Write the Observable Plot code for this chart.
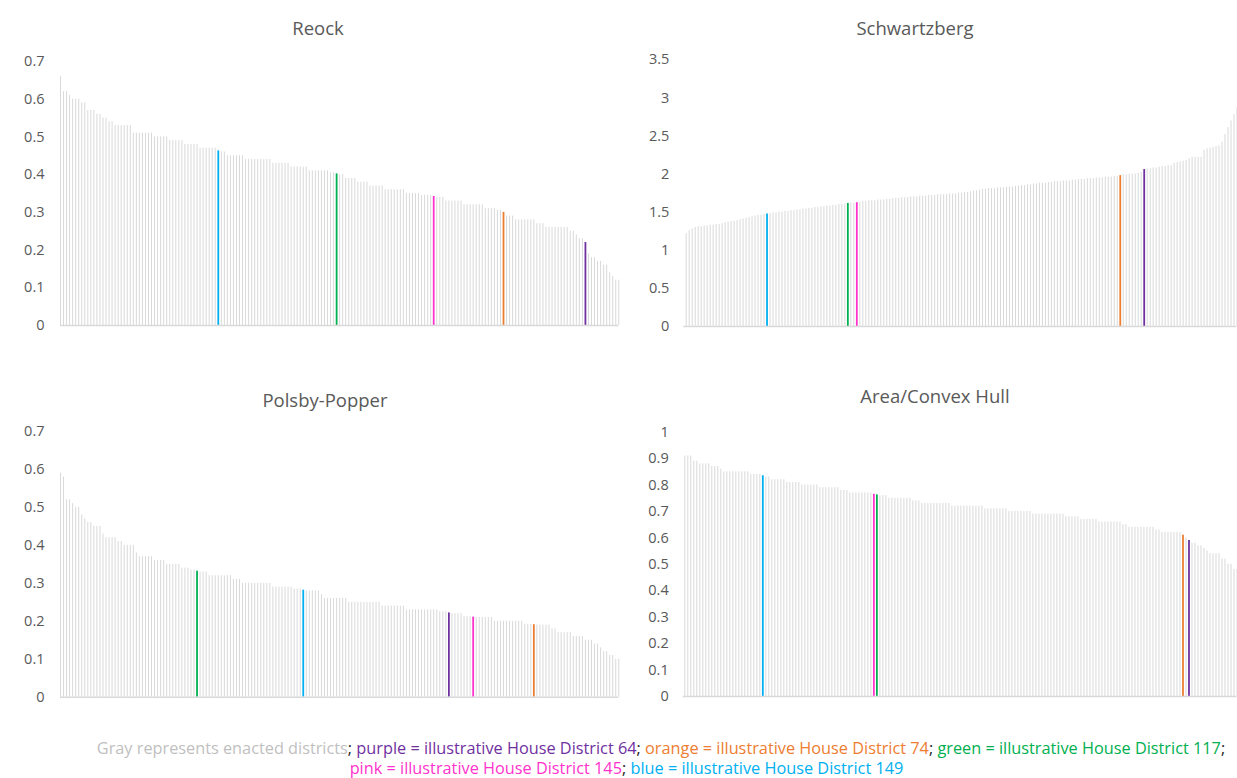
<!DOCTYPE html>
<html><head><meta charset="utf-8">
<script src="https://cdn.jsdelivr.net/npm/d3@7"></script>
<script src="https://cdn.jsdelivr.net/npm/@observablehq/plot@0.6"></script>
<style>
body{margin:0;background:#fff;}
#root{position:relative;width:1237px;height:778px;overflow:hidden;font-family:"Open Sans",sans-serif;background:#fff;}
.panel{position:absolute;}
.title{position:absolute;width:400px;text-align:center;font-size:18.5px;line-height:24px;color:#595959;white-space:nowrap;}
.cap{position:absolute;width:1237px;text-align:center;font-size:16.3px;line-height:20px;white-space:nowrap;}
</style></head>
<body><div id="root"></div>
<script>
// ---- Data ----
const districts = [64, 74, 117, 145, 149];
const districtColorNames = ["purple", "orange", "green", "pink", "blue"];

const reockEnacted = [0.66,0.62,0.62,0.61,0.60,0.60,0.60,0.59,0.59,0.57,0.57,0.57,0.56,0.56,0.55,0.55,0.54,0.54,
0.53,0.53,0.53,0.53,0.53,0.53,0.51,0.51,0.51,0.51,0.51,0.51,0.51,0.50,0.50,0.50,0.50,0.50,
0.49,0.49,0.49,0.49,0.49,0.48,0.48,0.48,0.48,0.48,0.47,0.47,0.47,0.47,0.47,0.47,0.46,0.46,
0.45,0.45,0.45,0.45,0.45,0.45,0.44,0.44,0.44,0.44,0.44,0.44,0.44,0.44,0.44,
0.43,0.43,0.43,0.43,0.43,0.43,0.42,0.42,0.42,0.42,0.42,0.42,0.41,0.41,0.41,0.41,0.41,0.41,0.41,
0.405,0.405,0.40,0.40,0.39,0.39,0.39,0.39,0.38,0.38,0.38,0.38,0.37,0.37,0.37,0.37,0.37,
0.36,0.36,0.36,0.36,0.36,0.36,0.36,0.35,0.35,0.35,0.35,0.35,0.345,0.345,0.345,0.345,0.34,0.34,0.34,
0.33,0.33,0.33,0.33,0.33,0.33,0.32,0.32,0.32,0.32,0.32,0.32,0.32,0.31,0.31,0.31,0.31,0.305,0.305,
0.29,0.29,0.29,0.28,0.28,0.28,0.28,0.28,0.28,0.28,0.27,0.27,0.27,0.26,0.26,0.26,0.26,0.26,0.26,0.26,0.26,
0.25,0.25,0.24,0.23,0.23,0.19,0.18,0.18,0.17,0.17,0.16,0.16,0.14,0.13,0.12,0.12];
const reockIllustrative = [0.22, 0.30, 0.402, 0.342, 0.463];

const schwartzbergEnacted = [1.22,1.26,1.28,1.30,1.31,1.31,1.32,1.32,1.33,1.33,1.34,1.34,1.35,1.36,1.37,1.38,1.38,1.39,1.40,1.41,1.42,1.43,1.44,1.45,1.46,1.46,1.47,
1.48,1.49,1.49,1.50,1.50,1.51,1.51,1.52,1.52,1.53,1.53,1.54,1.54,1.55,1.55,1.56,1.56,1.57,1.57,1.58,1.58,1.59,1.59,1.60,1.60,1.61,
1.62,1.62,
1.63,1.64,1.64,1.65,1.65,1.65,1.66,1.66,1.66,1.67,1.67,1.68,1.68,1.68,1.69,1.69,1.69,1.70,1.70,1.70,1.71,1.71,1.71,1.72,1.72,1.72,
1.73,1.73,1.73,1.73,1.74,1.74,1.74,1.75,1.75,1.76,1.76,1.77,1.78,1.78,1.79,1.80,1.80,1.81,1.81,1.81,1.82,1.82,1.82,1.83,1.83,1.83,
1.84,1.84,1.85,1.85,1.86,1.86,1.87,1.87,1.88,1.88,1.88,1.89,1.89,1.90,1.90,1.90,1.91,1.91,1.91,1.92,1.92,1.93,1.93,1.93,
1.94,1.94,1.94,1.95,1.95,1.95,1.96,1.96,1.96,1.97,1.97,
1.99,1.99,2.00,2.00,2.00,2.01,2.02,
2.07,2.07,2.08,2.08,2.09,2.10,2.10,2.11,2.11,2.14,2.15,2.16,2.17,2.18,2.20,2.22,2.22,2.22,2.22,
2.31,2.33,2.34,2.35,2.36,2.37,2.42,2.52,2.61,2.70,2.78,2.87];
const schwartzbergIllustrative = [2.06, 1.98, 1.615, 1.625, 1.475];

const polsbyEnacted = [0.59,0.58,0.52,0.52,0.51,0.50,0.50,0.48,0.47,0.46,0.46,0.45,0.45,0.45,0.43,0.42,0.42,0.42,0.42,0.41,0.41,
0.40,0.40,0.40,0.40,0.38,0.37,0.37,0.37,0.37,0.37,0.36,0.36,0.36,0.36,0.35,0.35,0.35,0.35,0.35,0.34,0.34,0.34,0.335,0.335,
0.33,0.33,0.33,0.32,0.32,0.32,0.32,0.32,0.32,0.32,0.32,0.31,0.31,0.31,0.30,0.30,0.30,0.30,0.30,0.30,0.30,0.30,0.30,0.30,
0.29,0.29,0.29,0.29,0.29,0.29,0.29,0.285,0.285,0.285,
0.28,0.28,0.28,0.28,0.28,0.27,0.26,0.26,0.26,0.26,0.26,0.26,0.26,0.26,
0.25,0.25,0.25,0.25,0.25,0.25,0.25,0.25,0.25,0.25,0.25,0.24,0.24,0.24,0.24,0.24,0.24,0.24,0.24,
0.23,0.23,0.23,0.23,0.23,0.23,0.23,0.23,0.23,0.23,0.23,0.225,0.225,0.225,
0.22,0.22,0.22,0.22,0.212,0.212,0.212,
0.21,0.21,0.21,0.21,0.21,0.21,0.20,0.20,0.20,0.20,0.20,0.20,0.20,0.20,0.20,0.20,0.192,0.192,0.192,
0.19,0.19,0.19,0.19,0.19,0.18,0.18,0.17,0.17,0.17,0.17,0.17,0.16,0.16,0.16,0.16,0.15,0.15,0.15,0.14,0.14,0.13,0.12,0.12,0.11,0.11,0.10,0.10];
const polsbyIllustrative = [0.222, 0.191, 0.332, 0.211, 0.282];

const hullEnacted = [0.91,0.91,0.91,0.89,0.89,0.88,0.88,0.88,0.88,0.87,0.87,0.87,0.86,0.85,0.85,0.85,0.85,0.85,0.85,0.85,0.85,0.85,0.84,0.84,0.84,0.84,
0.83,0.83,0.82,0.82,0.82,0.82,0.82,0.81,0.81,0.81,0.81,0.81,0.80,0.80,0.80,0.80,0.80,0.80,0.79,0.79,0.79,0.79,0.79,0.79,0.79,0.78,0.78,0.78,
0.77,0.77,0.77,0.77,0.77,0.77,0.77,0.77,
0.76,0.76,0.76,0.75,0.75,0.75,0.75,0.75,0.75,0.75,0.75,0.74,0.74,0.74,0.73,0.73,0.73,0.73,0.73,0.73,0.73,0.73,0.73,0.73,
0.72,0.72,0.72,0.72,0.72,0.72,0.72,0.72,0.72,0.72,0.72,0.71,0.71,0.71,0.71,0.71,0.71,0.71,0.71,0.70,0.70,0.70,0.70,0.70,0.70,0.70,0.70,
0.69,0.69,0.69,0.69,0.69,0.69,0.69,0.69,0.69,0.69,0.69,0.68,0.68,0.68,0.68,0.68,0.67,0.67,0.67,0.67,0.67,0.67,
0.66,0.66,0.66,0.66,0.66,0.66,0.66,0.66,0.65,0.65,0.64,0.64,0.64,0.64,0.64,0.64,0.64,0.64,0.64,0.63,0.63,0.62,0.62,0.62,0.62,0.62,0.62,0.62,
0.60,
0.58,0.58,0.57,0.57,0.56,0.55,0.54,0.54,0.54,0.54,0.52,0.52,0.50,0.50,0.48,0.48];
const hullIllustrative = [0.59, 0.61, 0.763, 0.765, 0.835];

// ---- Styles ----
const GRAY = "#d9d9d9";
const hues = {purple: "#7030a0", orange: "#ed7d31", green: "#00b050", pink: "#ff33cc", blue: "#00b0f0"};
const TEXT = "#595959";

function buildRows(enacted, illustrative, order) {
  const rows = enacted.map(v => ({value: v, hue: GRAY, district: null}))
    .concat(illustrative.map((v, k) => ({value: v, hue: hues[districtColorNames[k]], district: districts[k]})));
  const sorted = rows.slice().sort(order === "asc" ? (a, b) => a.value - b.value : (a, b) => b.value - a.value);
  return sorted.map((d, i) => ({...d, rank: i}));
}

const fmt = d => String(+d.toFixed(2));

function panel(cfg) {
  const rows = cfg.rows;
  const ticks = d3.range(0, cfg.yMax + 1e-9, cfg.yStep).map(v => +v.toFixed(2));
  const plot = Plot.plot({
    width: cfg.width, height: cfg.height,
    marginLeft: cfg.marginLeft, marginRight: cfg.marginRight,
    marginTop: cfg.marginTop, marginBottom: cfg.marginBottom,
    style: {fontFamily: "'Open Sans', sans-serif", fontSize: "14.5px", color: TEXT, background: "transparent", overflow: "visible"},
    x: {axis: null, domain: [0, rows.length - 1], insetLeft: cfg.insetLeft || 0},
    y: {domain: [0, cfg.yMax], ticks, tickFormat: fmt, tickSize: 0, tickPadding: cfg.tickPadding, label: null},
    color: {type: "identity"},
    marks: [
      Plot.ruleX(rows.filter(d => !d.district), {x: "rank", y1: 0, y2: "value", stroke: GRAY, strokeWidth: 1}),
      Plot.ruleX(rows.filter(d => d.district), {x: "rank", y1: 0, y2: "value", stroke: d => d.hue, strokeWidth: 1.8}),
      Plot.ruleY([0], {stroke: GRAY, strokeWidth: 1.4})
    ]
  });
  plot.classList.add("panel");
  plot.style.left = cfg.left + "px";
  plot.style.top = cfg.top + "px";
  root.appendChild(plot);
  const t = document.createElement("div");
  t.className = "title";
  t.textContent = cfg.title;
  t.style.left = (cfg.titleX - 200) + "px";
  t.style.top = (cfg.titleY - 12.5) + "px";
  root.appendChild(t);
}

const root = document.getElementById("root");

panel({title: "Reock", titleX: 318, titleY: 28, rows: buildRows(reockEnacted, reockIllustrative, "desc"),
  yMax: 0.7, yStep: 0.1, left: 0, top: 40, width: 620, height: 300,
  marginLeft: 60, marginRight: 1.7, marginTop: 21, marginBottom: 15, tickPadding: 16});
panel({title: "Schwartzberg", titleX: 915, titleY: 28, rows: buildRows(schwartzbergEnacted, schwartzbergIllustrative, "asc"),
  yMax: 3.5, yStep: 0.5, left: 620, top: 40, width: 617, height: 300,
  marginLeft: 63.3, marginRight: 0.5, marginTop: 19.3, marginBottom: 14, tickPadding: 14.5, insetLeft: 2.4});
panel({title: "Polsby-Popper", titleX: 325, titleY: 400, rows: buildRows(polsbyEnacted, polsbyIllustrative, "desc"),
  yMax: 0.7, yStep: 0.1, left: 0, top: 410, width: 620, height: 300,
  marginLeft: 60, marginRight: 1.7, marginTop: 21, marginBottom: 13.3, tickPadding: 16});
panel({title: "Area/Convex Hull", titleX: 935, titleY: 396, rows: buildRows(hullEnacted, hullIllustrative, "desc"),
  yMax: 1, yStep: 0.1, left: 620, top: 410, width: 617, height: 300,
  marginLeft: 62.7, marginRight: 0.5, marginTop: 21.7, marginBottom: 14, tickPadding: 14.5, insetLeft: 1.6});

// ---- Caption ----
function span(parent, text, color) {
  const s = document.createElement("span");
  s.textContent = text;
  s.style.color = color;
  parent.appendChild(s);
}
const SEP = "#262626";
const line1 = document.createElement("div");
line1.className = "cap";
line1.style.left = (661 - 618.5) + "px";
line1.style.top = "738px";
span(line1, "Gray represents enacted districts", "#bfbfbf");
for (let k = 0; k < 3; k++) {
  span(line1, "; ", SEP);
  span(line1, `${districtColorNames[k]} = illustrative House District ${districts[k]}`, hues[districtColorNames[k]]);
}
span(line1, ";", SEP);
root.appendChild(line1);

const line2 = document.createElement("div");
line2.className = "cap";
line2.style.left = (626.5 - 618.5) + "px";
line2.style.top = "758px";
span(line2, `${districtColorNames[3]} = illustrative House District ${districts[3]}`, hues[districtColorNames[3]]);
span(line2, "; ", SEP);
span(line2, `${districtColorNames[4]} = illustrative House District ${districts[4]}`, hues[districtColorNames[4]]);
root.appendChild(line2);
</script>
</body></html>
